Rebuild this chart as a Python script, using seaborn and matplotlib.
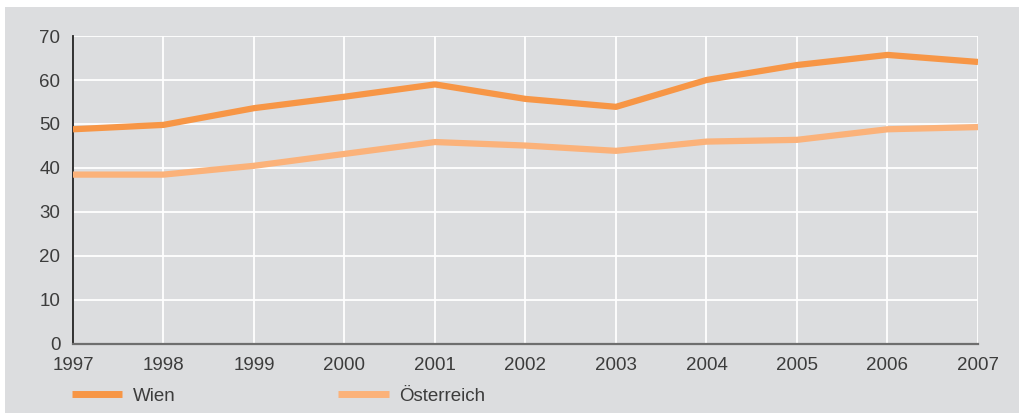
import matplotlib
matplotlib.use("Agg")
import matplotlib.pyplot as plt
from matplotlib.patches import Rectangle
from matplotlib.lines import Line2D
import pandas as pd
import seaborn as sns

years = [1997, 1998, 1999, 2000, 2001, 2002, 2003, 2004, 2005, 2006, 2007]
wien = [48.8, 49.8, 53.6, 56.2, 59.0, 55.7, 53.9, 60.0, 63.4, 65.7, 64.1]
oesterreich = [38.5, 38.5, 40.5, 43.2, 45.9, 45.1, 43.9, 46.0, 46.4, 48.8, 49.3]
series_names = ["Wien", "Österreich"]
y_ticks = [0, 10, 20, 30, 40, 50, 60, 70]

colors = {"Wien": "#f79646", "Österreich": "#fbb27a"}
panel = "#dcdddf"
text_col = "#3c3c3c"

df = pd.DataFrame({
    "Jahr": years * 2,
    "Wert": wien + oesterreich,
    "Region": [series_names[0]] * len(years) + [series_names[1]] * len(years),
})

sns.set_theme(style="white")
plt.rcParams["font.family"] = ["Liberation Sans", "DejaVu Sans"]

W, H = 1019, 417
fig = plt.figure(figsize=(W / 100, H / 100), dpi=100)
fig.patch.set_facecolor("white")
fig.add_artist(Rectangle((5 / W, 4 / H), 1 - 5 / W, (413 - 7) / H,
                         transform=fig.transFigure, facecolor=panel,
                         edgecolor="none", zorder=0))

ax = fig.add_axes([73 / W, 1 - 344 / H, (978 - 73) / W, (344 - 36) / H])
ax.set_facecolor(panel)

sns.lineplot(data=df, x="Jahr", y="Wert", hue="Region", palette=colors,
             hue_order=series_names, linewidth=4.5, ax=ax, legend=False,
             zorder=3)
for ln in ax.get_lines():
    ln.set_solid_capstyle("butt")
    ln.set_solid_joinstyle("round")

ax.set_xlim(1997, 2007)
ax.set_ylim(0, 70)
ax.set_xticks(years)
ax.set_xticklabels([str(y) for y in years])
ax.set_yticks(y_ticks)
ax.set_xlabel("")
ax.set_ylabel("")
ax.grid(True, color="white", linewidth=1.3, zorder=1)
ax.set_axisbelow(True)
ax.tick_params(length=0, labelsize=13.5, labelcolor=text_col)
ax.tick_params(axis="y", pad=9)
ax.tick_params(axis="x", pad=9)

for side in ["top", "right"]:
    ax.spines[side].set_visible(False)
ax.spines["left"].set_color("#222222")
ax.spines["left"].set_linewidth(1.3)
ax.spines["bottom"].set_color("#6e6e6e")
ax.spines["bottom"].set_linewidth(1.6)

handles = [Line2D([0], [0], color=colors[n], linewidth=5, solid_capstyle="butt")
           for n in series_names]
fig.legend(handles, series_names, loc="center left",
           bbox_to_anchor=(66 / W, 1 - 396 / H), ncol=2, frameon=False,
           fontsize=13.5, labelcolor=text_col, handlelength=2.7,
           handletextpad=0.55, columnspacing=8.7, borderaxespad=0,
           borderpad=0.3)

fig.savefig("out.png", dpi=100, facecolor=fig.get_facecolor())
